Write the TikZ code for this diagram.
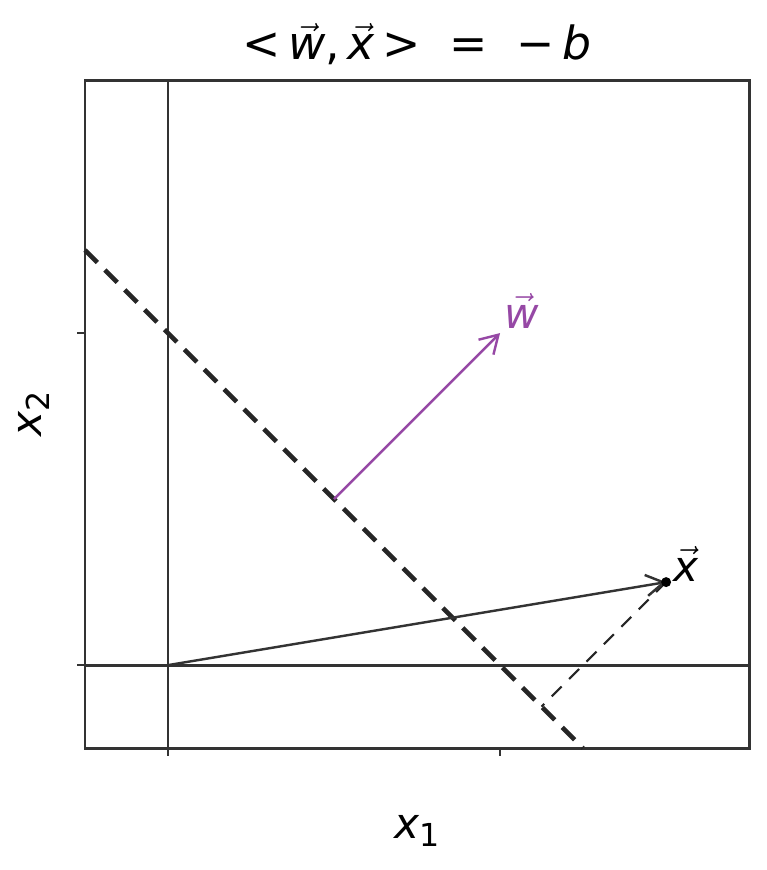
\documentclass[tikz,border=0pt]{standalone}
\usepackage{fontspec}
\setmainfont{DejaVu Sans}
\usetikzlibrary{arrows.meta}
\definecolor{wpurple}{RGB}{150,72,165}
\newcommand{\vecsym}[1]{$\vec{\mbox{\itshape #1}}$}
\newcommand{\subidx}[1]{\raisebox{-0.35ex}{\fontsize{9}{10}\selectfont #1}}

\begin{document}
\begin{tikzpicture}[x=3.32cm,y=3.32cm,line cap=butt,
  frameline/.style={black!80,line width=0.8pt},
  tickmark/.style={black!80,line width=0.6pt},
  vecarrow/.style={-{Straight Barb[length=5pt,width=6pt]},line width=0.7pt},
  lbl/.style={font=\fontsize{12}{14}\selectfont}]
\useasboundingbox (-0.506,-0.617) rectangle (1.801,2.003);
% data points
\coordinate (O) at (0,0);
\coordinate (xpt) at (1.5,0.25);
\coordinate (proj) at (1.125,-0.125);
\coordinate (wtail) at (0.5,0.5);
\coordinate (wtip) at (1,1);
\coordinate (hstart) at (-0.25,1.25);
\coordinate (hend) at (1.25,-0.25);
% axes box and ticks
\draw[frameline] (-0.25,-0.25) rectangle (1.75,1.76);
\foreach \t in {0,1} {
  \draw[tickmark] (\t,-0.25) -- (\t,-0.275);
  \draw[tickmark] (-0.25,\t) -- (-0.275,\t);
}
\draw[frameline] (0,-0.25) -- (0,1.76);
\draw[frameline] (-0.25,0) -- (1.75,0);
% separating line and projection
\draw[black!85,line width=1.3pt,dash pattern=on 5pt off 3pt] (hstart) -- (hend);
\draw[black!85,line width=0.6pt,dash pattern=on 4pt off 3pt] (xpt) -- (proj);
% vectors
\draw[vecarrow,wpurple] (wtail) -- (wtip);
\draw[vecarrow,black!80] (O) -- (xpt);
\fill[black] (xpt) circle (0.015);
\node[lbl,text=wpurple,anchor=south west,inner sep=1pt] (wlabel) at (1.0,1.0) {\vecsym{w}};
\node[lbl,anchor=south west,inner sep=1pt] (xlabel) at (1.51,0.24) {\vecsym{x}};
% titles
\node[font=\fontsize{13}{15}\selectfont] (title) at (0.75,1.87) {<\,\vecsym{w},\,\vecsym{x}\,>\ \ =\ \ \char"2212\,{\itshape b}};
\node[lbl] (xonelabel) at (0.75,-0.5) {{\itshape x}\subidx{1}};
\node[lbl,rotate=90] (xtwolabel) at (-0.405,0.755) {{\itshape x}\subidx{2}};
\end{tikzpicture}
\end{document}
